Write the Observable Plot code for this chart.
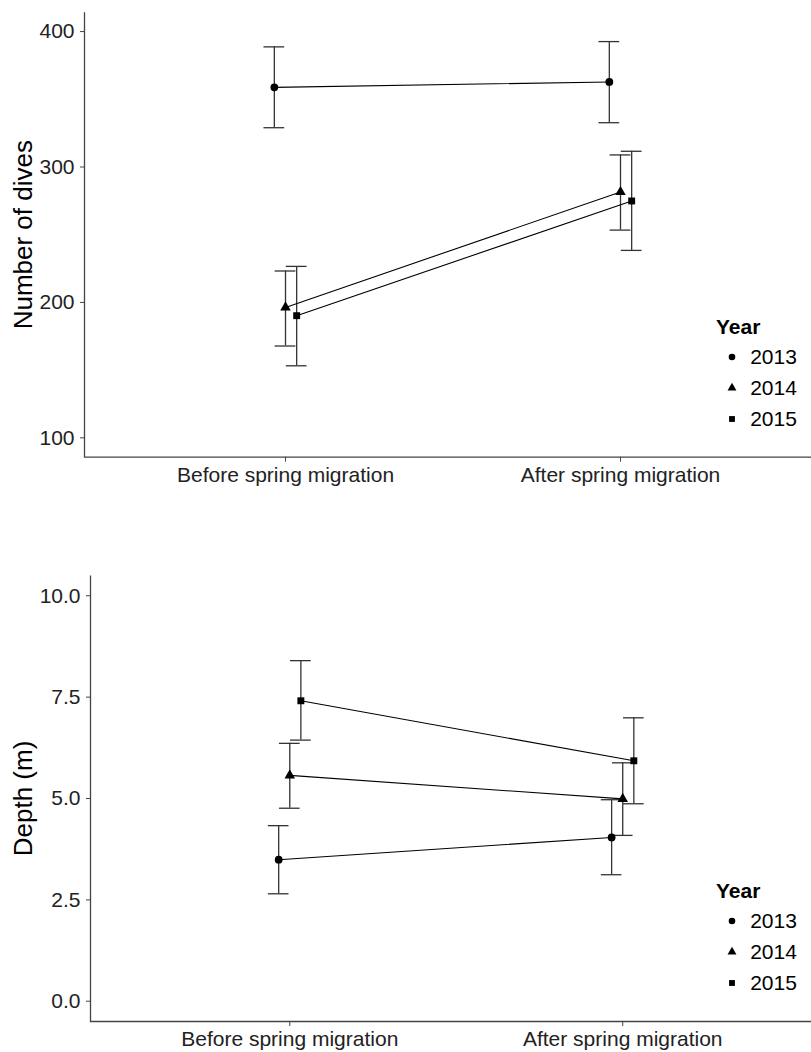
<!DOCTYPE html>
<html><head><meta charset="utf-8">
<script src="https://cdn.jsdelivr.net/npm/d3@7"></script>
<script src="https://cdn.jsdelivr.net/npm/@observablehq/plot@0.6"></script>
<style>
html,body{margin:0;padding:0;background:#fff;overflow:hidden}
#wrap{position:relative;width:811px;height:1052px;font-family:"Liberation Sans",Arial,sans-serif}
.legtitle{position:absolute;font-weight:bold;font-size:21px;line-height:24px;color:#000;font-family:"Liberation Sans",Arial,sans-serif}
.legbox{position:absolute}
.leg-swatch{height:31px;padding-bottom:0 !important;}
svg{display:block}
</style></head>
<body><div id="wrap"></div>
<script>
const periods = ["Before spring migration", "After spring migration"];
const years = ["2013", "2014", "2015"];
const yearSymbols = ["circle", "triangle", "square"];

// Number of dives: rows = years (2013, 2014, 2015), cols = periods
const divesMean  = [[358.8, 362.8], [196.3, 281.5], [190.2, 274.9]];
const divesLower = [[329.0, 332.7], [167.8, 253.4], [153.2, 238.4]];
const divesUpper = [[388.7, 392.6], [223.2, 308.9], [226.6, 311.6]];
const divesTicks = [100, 200, 300, 400];

// Depth (m)
const depthMean  = [[3.49, 4.04], [5.57, 4.99], [7.41, 5.93]];
const depthLower = [[2.65, 3.12], [4.76, 4.09], [6.44, 4.87]];
const depthUpper = [[4.33, 4.97], [6.36, 5.88], [8.40, 6.99]];
const depthTicks = [0, 2.5, 5, 7.5, 10];

const dodge = 0.1 / 3;   // position_dodge(width = 0.1)
const cap = 0.031;       // half error-bar width

function rows(mean, lo, hi) {
  const out = [];
  years.forEach((yr, j) => periods.forEach((p, i) => out.push({
    year: yr, period: p, pos: i + 1 + (j - 1) * dodge,
    mean: mean[j][i], lo: lo[j][i], hi: hi[j][i]
  })));
  return out;
}

function chart({data, yDomain, yTicks, yFormat, yLabel, height, marginTop, marginBottom, marginLeft, xRange}) {
  const w = 811 - marginLeft, h = height - marginTop - marginBottom;
  return Plot.plot({
    width: 811, height, marginTop, marginBottom, marginLeft, marginRight: 0,
    style: {fontFamily: "Liberation Sans, Arial, sans-serif", fontSize: "21px", color: "#333", background: "#fff"},
    x: {domain: [0.4, 2.6], range: xRange, axis: null},
    y: {domain: yDomain, axis: null},
    symbol: {domain: years, range: yearSymbols},
    marks: [
      Plot.frame({stroke: "#444", strokeWidth: 1.3, strokeDasharray: `0 ${w + h} ${w + h}`}),
      Plot.axisX({ticks: [1, 2], tickFormat: d => periods[d - 1], tickSize: 5, tickPadding: 5, label: null, stroke: "#444", fill: "#222"}),
      Plot.axisY({ticks: yTicks, tickFormat: yFormat, tickSize: 4, tickPadding: 6, label: null, stroke: "#444", fill: "#222"}),
      Plot.ruleX(data, {x: "pos", y1: "lo", y2: "hi", stroke: "#333", strokeWidth: 1.3}),
      Plot.ruleY(data, {x1: d => d.pos - cap, x2: d => d.pos + cap, y: "lo", stroke: "#333", strokeWidth: 1.3}),
      Plot.ruleY(data, {x1: d => d.pos - cap, x2: d => d.pos + cap, y: "hi", stroke: "#333", strokeWidth: 1.3}),
      Plot.line(data, {x: "pos", y: "mean", z: "year", stroke: "#000", strokeWidth: 1.1}),
      Plot.dot(data, {x: "pos", y: "mean", symbol: "year", fill: "#000", stroke: "none", r: 3.9}),
      Plot.text([yLabel], {frameAnchor: "left", textAnchor: "middle", lineAnchor: "middle", rotate: -90, dx: 22.7 - marginLeft, fontSize: 26, fill: "#000"})
    ]
  });
}

function legend(titleTop, boxTop) {
  const t = document.createElement("div");
  t.className = "legtitle";
  t.textContent = "Year";
  t.style.left = "716px";
  t.style.top = titleTop + "px";
  const box = document.createElement("div");
  box.className = "legbox";
  box.style.left = "723.7px";
  box.style.top = boxTop + "px";
  box.appendChild(Plot.legend({
    symbol: {domain: years, range: yearSymbols},
    columns: 1, swatchSize: 16, fill: "#000", stroke: "none", r: 3.3,
    className: "leg",
    style: {fontFamily: "Liberation Sans, Arial, sans-serif", fontSize: "21px", color: "#000", margin: "0"}
  }));
  return [t, box];
}

const wrap = document.getElementById("wrap");
wrap.appendChild(chart({
  data: rows(divesMean, divesLower, divesUpper),
  yDomain: [85.7, 414.3], yTicks: divesTicks, yFormat: d3.format("d"),
  yLabel: "Number of dives", height: 500, marginTop: 11.7, marginBottom: 43.3,
  marginLeft: 84, xRange: [84, 821]
}));
wrap.appendChild(chart({
  data: rows(depthMean, depthLower, depthUpper),
  yDomain: [-0.5, 10.5], yTicks: depthTicks, yFormat: d3.format(".1f"),
  yLabel: "Depth (m)", height: 552, marginTop: 75, marginBottom: 31,
  marginLeft: 90, xRange: [89.5, 822]
}));
for (const el of legend(314.7, 341.2)) wrap.appendChild(el);
for (const el of legend(879, 905.5)) wrap.appendChild(el);
</script>
</body></html>
